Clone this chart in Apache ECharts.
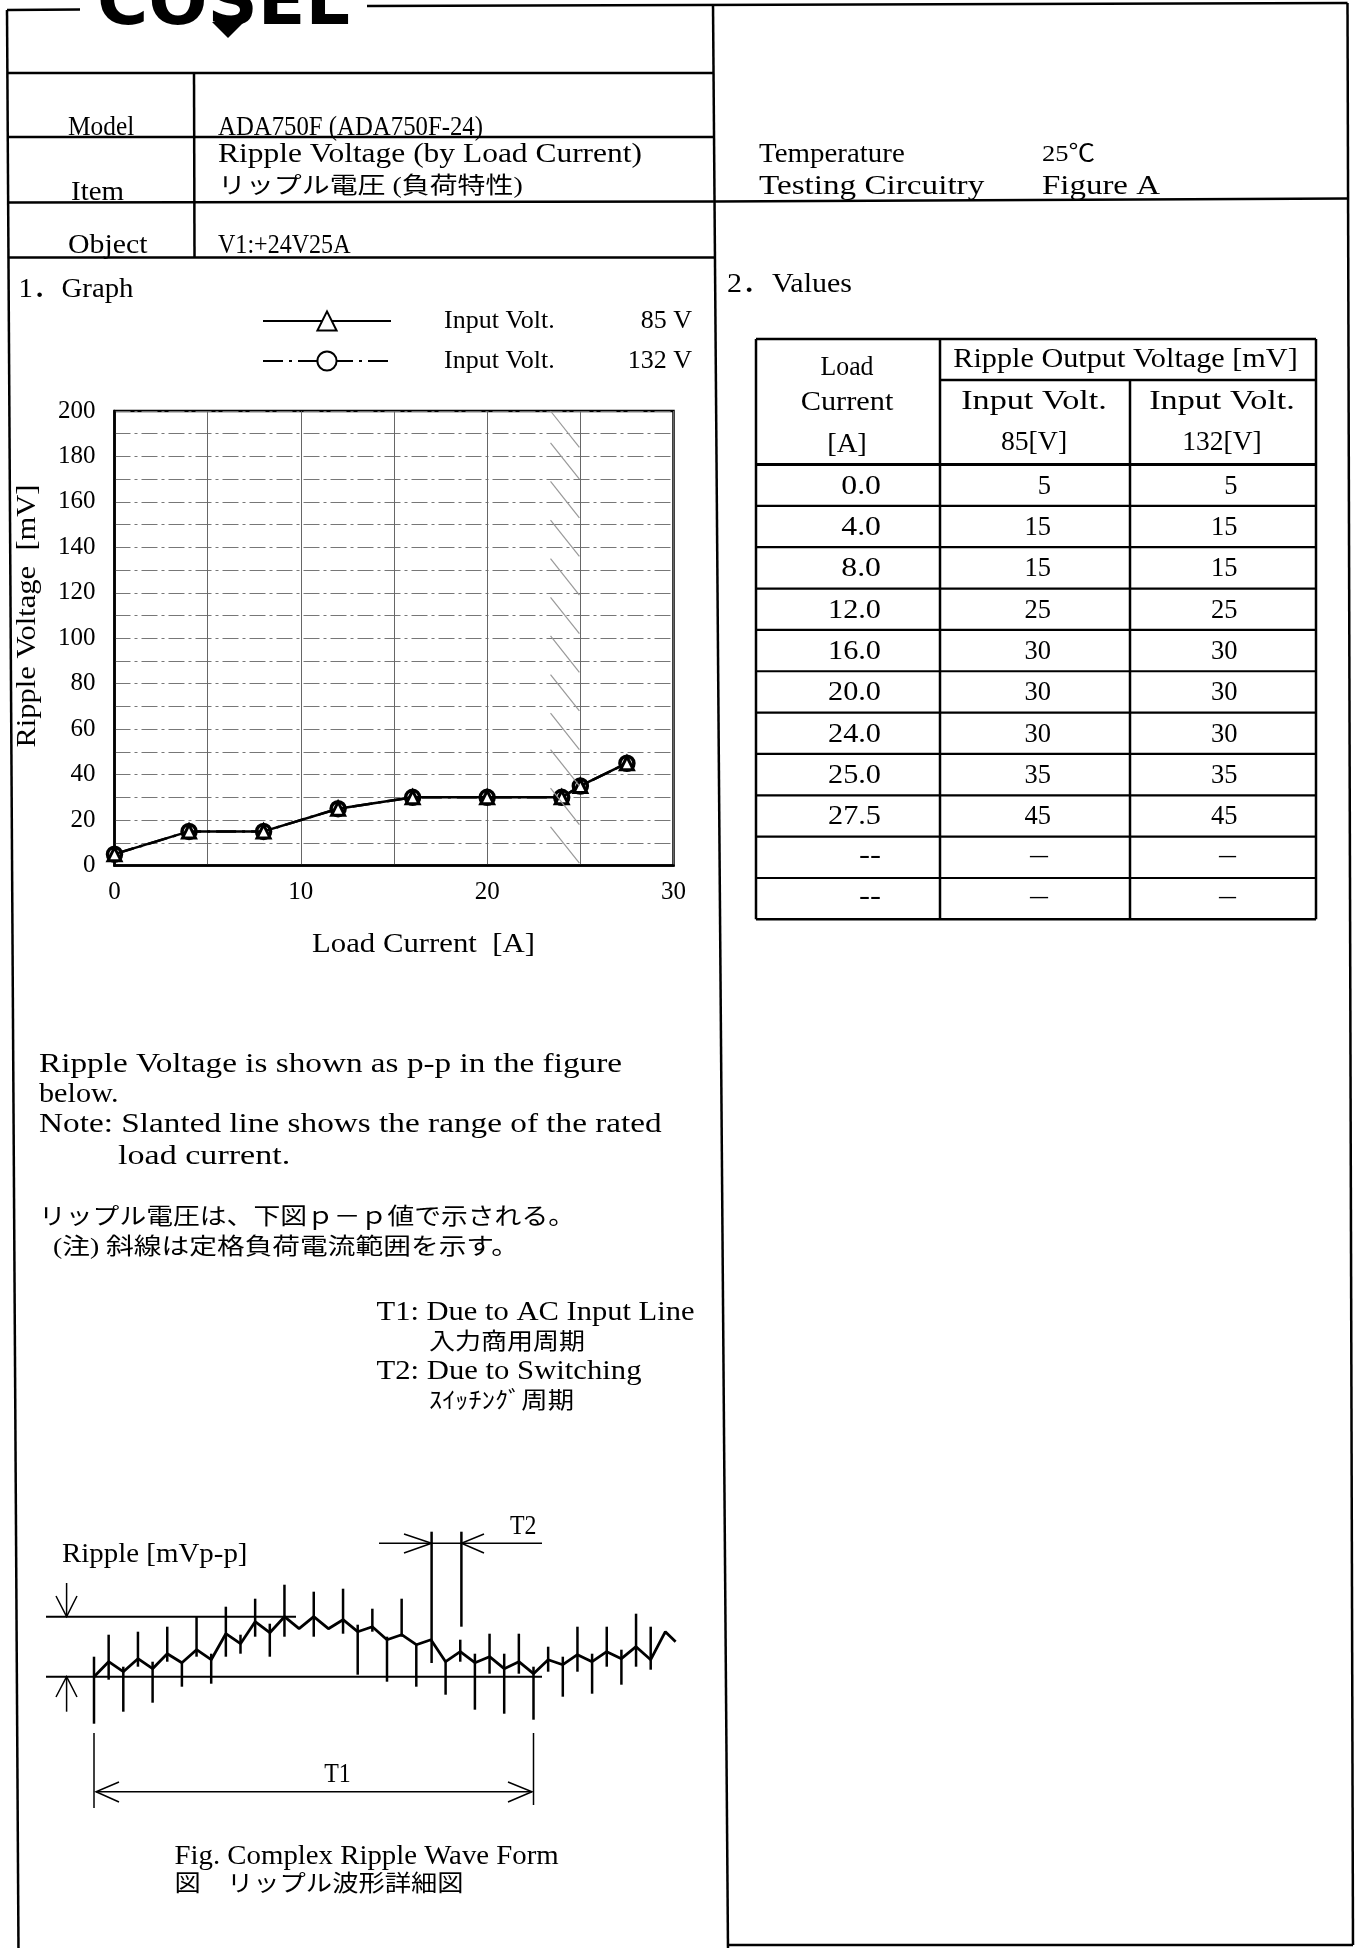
<!DOCTYPE html>
<html><head><meta charset="utf-8">
<script src="https://cdn.jsdelivr.net/npm/echarts@6/dist/echarts.min.js"></script>
<style>html,body{margin:0;padding:0;background:#fff}#c{width:1359px;height:1948px}</style>
</head><body><div id="c"></div>
<script>
// ---------------- data ----------------
const loadCurrent = [0, 4, 8, 12, 16, 20, 24, 25, 27.5];
const ripple85 = [5, 15, 15, 25, 30, 30, 30, 35, 45];
const ripple132 = [5, 15, 15, 25, 30, 30, 30, 35, 45];
const seriesNames = ['Input Volt. 85 V', 'Input Volt. 132 V'];
const loadLabels = ['0.0', '4.0', '8.0', '12.0', '16.0', '20.0', '24.0', '25.0', '27.5'];
const xTickValues = [0, 10, 20, 30];
const yTickValues = [0, 20, 40, 60, 80, 100, 120, 140, 160, 180, 200];
// slanted lines marking the rated load range: upper end of each segment [mV]
const hatchTops = [200, 186, 169, 152, 135, 118, 101, 84, 67, 51, 34, 17];
const HATCH_X0 = 23.4, HATCH_X1 = 24.95, HATCH_DROP = 16;
// complex ripple waveform illustration (time step index, level)
const waveT = [0,1,2,3,4,5,6,7,8,9,10,11,12,13,14,15,16,17,18,19,20,21,22,23,24,25,26,27,28,29,30,31,32,33,34,35,36,37,38,39,39.7];
const waveV = [0,15,5,18,8,23,14,27,17,43,33,55,44,60,48,60,48,57,45,50,37,42,32,37,15,25,14,20,8,15,3,17,12,22,15,25,18,30,17,45,35];
const spikeT = [0,1,2,3,4,5,6,7,8,9,10,11,12,13,15,17,18,19,20,21,22,24,25,26,27,28,29,30,31,32,33,34,35,36,37,38];
const spikeTop = [20,42,10,45,15,50,14,60,23,70,42,78,53,92,85,88,52,68,40,78,33,15,37,23,43,23,43,10,30,20,50,23,50,27,63,50];
const spikeBottom = [-47,-3,-35,10,-26,15,-10,20,-7,20,23,40,20,40,40,43,2,45,-5,40,-10,-18,15,-33,3,-37,3,-43,5,-20,5,-17,10,-8,10,7];

// ---------------- helpers ----------------
const FF = '"Liberation Serif","Noto Sans CJK JP",serif';
const CELL = 13.25;
const mctx = document.createElement('canvas').getContext('2d');
function cells(s) { let n = 0; for (const ch of s) { const c = ch.codePointAt(0); n += (c > 0xff && !(c >= 0xff61 && c <= 0xff9f)) ? 2 : 1; } return n; }
function T(x, y, s, o) {
  o = o || {};
  const fs = o.fs || 26;
  const w = o.w || cells(s) * CELL;
  const fam = o.ff || FF;
  const fw = o.fw || 'normal';
  mctx.font = fw + ' ' + fs + 'px ' + fam;
  const m = mctx.measureText(s).width || 1;
  const al = o.align || 'left';
  return { type: 'text', x: x, y: y, rotation: o.rot || 0, scaleX: w / m, scaleY: o.sy || (o.fs ? 1 : 1.08), z: 100, silent: true,
    style: { text: s, fontSize: fs, fontFamily: fam, fontWeight: fw, fill: '#000', textAlign: al, align: al, textVerticalAlign: 'middle', verticalAlign: 'middle' } };
}
function L(x1, y1, x2, y2, w) { return { type: 'line', z: 100, silent: true, shape: { x1: x1, y1: y1, x2: x2, y2: y2 }, style: { stroke: '#000', lineWidth: w || 2.5 } }; }
function P(pts, w) { return { type: 'polyline', z: 100, silent: true, shape: { points: pts }, style: { stroke: '#000', lineWidth: w || 1.5, fill: null } }; }

const G = [];
// ---- page frame ----
G.push(L(7, 10, 18.5, 1948));
G.push(L(1347.5, 3, 1353, 1945));
G.push(L(713, 4, 728, 1948));
G.push(L(7, 10, 80, 9.5));
G.push(L(367, 6, 1347.5, 3));
G.push(L(7.4, 73, 713.3, 73));
G.push(L(194, 73, 194.5, 257.5));
G.push(L(7.6, 137, 713.5, 137));
G.push(L(7.8, 202.5, 713.8, 201.5));
G.push(L(713.8, 201.5, 1348, 198.5));
G.push(L(8, 257.5, 714, 257.5));
G.push(L(728, 1945, 1353, 1945));
// logo
G.push(T(97, 6, 'COSEL', { fs: 70, w: 253, sy: 1, ff: '"DejaVu Sans",sans-serif', fw: 'bold' }));
G.push({ type: 'polygon', z: 100, silent: true, shape: { points: [[212, 22], [244, 22], [228, 38]] }, style: { fill: '#000' } });
// header texts
G.push(T(68, 128, 'Model'));
G.push(T(218, 128, 'ADA750F (ADA750F-24)'));
G.push(T(218, 155, 'Ripple Voltage (by Load Current)'));
G.push(T(218, 187, 'リップル電圧 (負荷特性)', { fs: 23 }));
G.push(T(71, 193, 'Item'));
G.push(T(68, 246, 'Object'));
G.push(T(218, 246, 'V1:+24V25A'));
G.push(T(759, 155, 'Temperature'));
G.push(T(1042, 155, '25℃', { fs: 24 }));
G.push(T(759, 187, 'Testing Circuitry'));
G.push(T(1042, 187, 'Figure A', { w: 118 }));
G.push(T(18.4, 290, '1．Graph', { w: 115 }));
G.push(T(727, 285, '2．Values', { w: 125 }));
// axis titles
G.push(T(28, 616, 'Ripple Voltage  [mV]', { rot: Math.PI / 2, align: 'center', w: 263 }));
G.push(T(312, 945, 'Load Current  [A]', { w: 223 }));
// notes
G.push(T(39, 1065, 'Ripple Voltage is shown as p-p in the figure'));
G.push(T(39, 1095, 'below.'));
G.push(T(39, 1125, 'Note: Slanted line shows the range of the rated'));
G.push(T(118, 1156.5, 'load current.'));
G.push(T(39, 1218, 'リップル電圧は、下図ｐ－ｐ値で示される。', { fs: 23, w: 536 }));
G.push(T(53, 1248, '(注) 斜線は定格負荷電流範囲を示す。', { fs: 23, w: 466 }));
G.push(T(376.5, 1313, 'T1: Due to AC Input Line'));
G.push(T(429, 1343, '入力商用周期', { fs: 23, w: 156 }));
G.push(T(376.5, 1372, 'T2: Due to Switching'));
G.push(T(429, 1402, 'ｽｲｯﾁﾝｸﾞ周期', { fs: 23, w: 145 }));
// waveform annotations
G.push(T(62, 1555, 'Ripple [mVp-p]'));
G.push(T(510, 1527, 'T2'));
G.push(T(337.5, 1775, 'T1', { align: 'center' }));
G.push(T(174.5, 1857, 'Fig. Complex Ripple Wave Form'));
G.push(T(174.5, 1885, '図　リップル波形詳細図', { fs: 23, w: 289 }));
G.push(L(46, 1616.7, 296, 1616.7, 2));
G.push(L(46, 1676.7, 542, 1676.7, 2));
G.push(L(66.6, 1583, 66.6, 1616.7, 1.5));
G.push(P([[56, 1596], [66.6, 1616.7], [77, 1596]]));
G.push(L(66.6, 1676.7, 66.6, 1711.7, 1.5));
G.push(P([[56, 1697], [66.6, 1676.7], [77, 1697]]));
G.push(L(379, 1543.3, 542, 1543.3, 1.5));
G.push(P([[404, 1534], [431.6, 1543.3], [404, 1553]]));
G.push(P([[484, 1534], [461.4, 1543.3], [484, 1553]]));
G.push(L(431.6, 1531.7, 431.6, 1663, 2.5));
G.push(L(461.4, 1531.7, 461.4, 1626.7, 2.5));
G.push(L(94, 1733, 94, 1808, 1.5));
G.push(L(533.5, 1733, 533.5, 1805, 1.5));
G.push(L(96, 1791.7, 532, 1791.7, 1.5));
G.push(P([[119, 1782], [96, 1791.7], [119, 1802]]));
G.push(P([[508, 1782], [532, 1791.7], [508, 1802]]));

// ---- values table ----
const TL = 756, TR = 1316, TT = 339, TSUB = 380, THB = 464.5, RH = 41.35, C1 = 940, C2 = 1130;
const nRows = loadLabels.length + 2;
const TB = THB + RH * nRows;
G.push(L(TL, TT, TR, TT)); G.push(L(TL, TB, TR, TB));
G.push(L(TL, TT, TL, TB)); G.push(L(TR, TT, TR, TB));
G.push(L(C1, TT, C1, TB)); G.push(L(C2, TSUB, C2, TB));
G.push(L(C1, TSUB, TR, TSUB)); G.push(L(TL, THB, TR, THB, 3));
for (let k = 1; k < nRows; k++) G.push(L(TL, THB + RH * k, TR, THB + RH * k, 2.2));
G.push(T(847, 368, 'Load', { align: 'center' }));
G.push(T(847, 403, 'Current', { align: 'center' }));
G.push(T(847, 445, '[A]', { align: 'center' }));
G.push(T(1125.5, 360, 'Ripple Output Voltage [mV]', { align: 'center' }));
G.push(T(1034, 402, 'Input Volt.', { align: 'center' }));
G.push(T(1034, 443, '85[V]', { align: 'center' }));
G.push(T(1222, 402, 'Input Volt.', { align: 'center' }));
G.push(T(1222, 443, '132[V]', { align: 'center' }));
loadLabels.forEach((lab, i) => {
  const cy = THB + RH * (i + 0.5) + 1;
  G.push(T(881, cy, lab, { align: 'right' }));
  G.push(T(1051, cy, String(ripple85[i]), { align: 'right' }));
  G.push(T(1237.5, cy, String(ripple132[i]), { align: 'right' }));
});
for (let k = loadLabels.length; k < nRows; k++) {
  const cy = THB + RH * (k + 0.5) - 2;
  G.push(T(881, cy, '--', { align: 'right', w: 22 }));
  G.push(T(1048, cy, '—', { align: 'right', w: 18 }));
  G.push(T(1236, cy, '—', { align: 'right', w: 17 }));
}

// ---------------- chart ----------------
const gridDash = [16, 4, 3, 4];
const chart = echarts.init(document.getElementById('c'), null, { renderer: 'canvas' });
chart.setOption({
  animation: false,
  backgroundColor: '#fff',
  legend: {
    data: seriesNames, orient: 'vertical', left: 262, top: 308, padding: 0,
    itemWidth: 128, itemHeight: 24, itemGap: 14, selectedMode: false,
    formatter: function (name) { const p = name.split(' '); return '{a|' + p.slice(0, 2).join(' ') + '}{b|' + p.slice(2).join(' ') + '}'; },
    textStyle: { color: '#000', fontFamily: FF, fontSize: 26,
      rich: { a: { fontFamily: FF, fontSize: 26, color: '#000', width: 133, padding: [0, 0, 0, 48], lineHeight: 24 },
              b: { fontFamily: FF, fontSize: 26, color: '#000', width: 115, align: 'right', lineHeight: 24 } } }
  },
  grid: [
    { left: 114.5, top: 411, width: 559, height: 454.5, show: true, borderColor: '#000', borderWidth: 2.5, backgroundColor: 'transparent' },
    { left: 94, top: 1576.7, width: 586, height: 160 }
  ],
  xAxis: [
    { gridIndex: 0, type: 'value', min: xTickValues[0], max: xTickValues[xTickValues.length - 1], interval: 10,
      axisLine: { show: true, onZero: false, lineStyle: { color: '#000', width: 2.5 } }, axisTick: { show: false },
      axisLabel: { margin: 14, fontFamily: FF, fontSize: 25, color: '#000' },
      splitLine: { show: true, lineStyle: { color: '#666', width: 1 } },
      minorTick: { show: false, splitNumber: 2 }, minorSplitLine: { show: true, lineStyle: { color: '#666', width: 1 } } },
    { gridIndex: 1, type: 'value', min: 0, max: 40, show: false }
  ],
  yAxis: [
    { gridIndex: 0, type: 'value', min: yTickValues[0], max: yTickValues[yTickValues.length - 1], interval: 20,
      axisLine: { show: true, onZero: false, lineStyle: { color: '#000', width: 2.5 } }, axisTick: { show: false },
      axisLabel: { margin: 19, fontFamily: FF, fontSize: 25, color: '#000' },
      splitLine: { show: true, lineStyle: { color: '#777', width: 1, type: gridDash } },
      minorTick: { show: false, splitNumber: 2 }, minorSplitLine: { show: true, lineStyle: { color: '#777', width: 1, type: gridDash } } },
    { gridIndex: 1, type: 'value', min: -60, max: 100, show: false }
  ],
  series: [
    { name: seriesNames[1], type: 'line', xAxisIndex: 0, yAxisIndex: 0, z: 3,
      data: loadCurrent.map((x, i) => [x, ripple132[i]]),
      symbol: 'circle', symbolSize: 14,
      lineStyle: { color: '#000', width: 2.5, type: [20, 6, 3, 6] },
      itemStyle: { color: '#fff', borderColor: '#000', borderWidth: 3.5 } },
    { name: seriesNames[0], type: 'line', xAxisIndex: 0, yAxisIndex: 0, z: 4,
      data: loadCurrent.map((x, i) => [x, ripple85[i]]),
      symbol: 'triangle', symbolSize: 13,
      lineStyle: { color: '#000', width: 2.5 },
      itemStyle: { color: '#fff', borderColor: '#000', borderWidth: 3 },
      markLine: { silent: true, symbol: ['none', 'none'], label: { show: false }, animation: false,
        lineStyle: { color: '#999', width: 1.2, type: 'solid' }, emphasis: { disabled: true },
        data: hatchTops.map(v => [{ coord: [HATCH_X0, v] }, { coord: [HATCH_X1, v - HATCH_DROP] }]) } },
    { name: 'wave', type: 'line', xAxisIndex: 1, yAxisIndex: 1, silent: true,
      data: waveT.map((t, i) => [t, waveV[i]]), symbol: 'none',
      lineStyle: { color: '#000', width: 2.8 } },
    { name: 'spikes', type: 'custom', xAxisIndex: 1, yAxisIndex: 1, silent: true,
      data: spikeT.map((t, i) => [t, spikeTop[i], spikeBottom[i]]),
      encode: { x: 0, y: [1, 2] },
      renderItem: function (params, api) {
        const a = api.coord([api.value(0), api.value(1)]);
        const b = api.coord([api.value(0), api.value(2)]);
        return { type: 'line', shape: { x1: a[0], y1: a[1], x2: b[0], y2: b[1] }, style: { stroke: '#000', lineWidth: 2.5 } };
      } }
  ],
  graphic: G
});
</script>
</body></html>
